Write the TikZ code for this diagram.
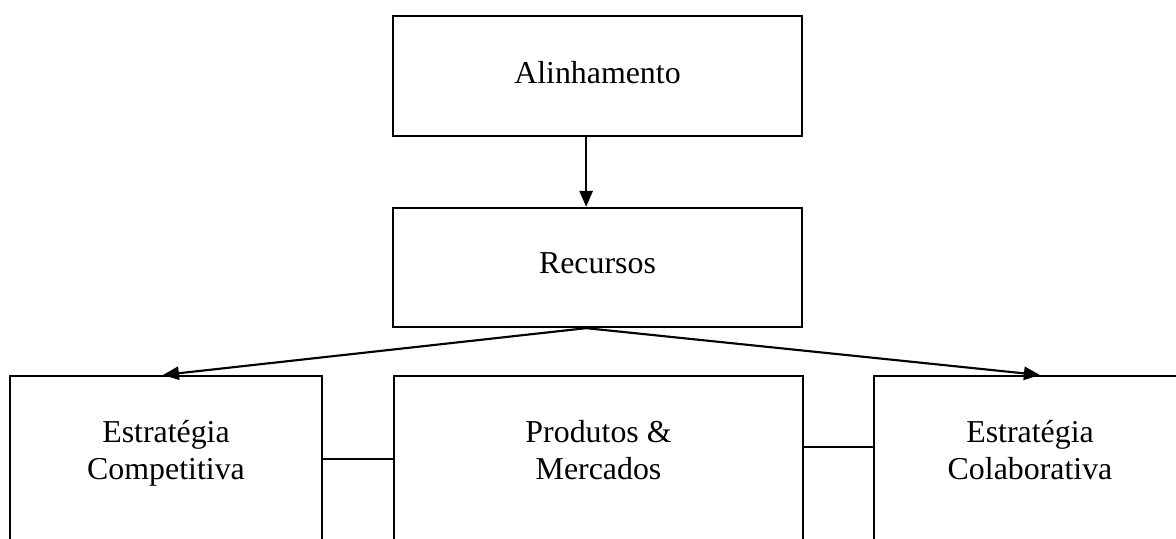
\documentclass[tikz,border=0pt]{standalone}
\usepackage{fontspec}
\setmainfont{Liberation Serif}
\usetikzlibrary{arrows.meta,positioning}

\tikzset{
    caixa/.style={draw, line width=0.75pt, minimum height=1.58cm, text depth=3pt, font=\fontsize{12}{13.8}\selectfont},
    caixabaixo/.style={draw, line width=0.75pt, minimum height=3cm},
    rotulo/.style={align=center, anchor=north, font=\fontsize{12}{13.8}\selectfont},
    seta/.style={line width=0.8pt, -{Triangle[length=6pt,width=5pt]}},
    liga/.style={line width=0.75pt}
}

\begin{document}
\begin{tikzpicture}
    \useasboundingbox (0,0) rectangle (15.557,7.130);
    \clip (0,0) rectangle (15.557,7.130);

    % Topo
    \node[caixa, minimum width=5.41cm] (alinh) at (7.904,6.125) {Alinhamento};
    \node[caixa, minimum width=5.41cm] (recur) at (7.904,3.592) {Recursos};

    % Linha de baixo
    \node[caixabaixo, minimum width=4.128cm] (compet) at (2.196,0.656) {};
    \node[rotulo] (competTxt) at (2.196,1.74) {\strut Estratégia\\\strut Competitiva};

    \node[caixabaixo, minimum width=5.41cm] (prod) at (7.918,0.656) {};
    \node[rotulo] (prodTxt) at (7.918,1.74) {\strut Produtos \&\\\strut Mercados};

    \node[caixabaixo, minimum width=4.128cm] (colab) at (13.626,0.656) {};
    \node[rotulo] (colabTxt) at (13.626,1.74) {\strut Estratégia\\\strut Colaborativa};

    % Setas
    \draw[seta] ([xshift=-0.15cm]alinh.south) -- ([xshift=-0.15cm]recur.north);
    \draw[seta] ([xshift=-0.15cm]recur.south) -- ([xshift=-0.04cm]compet.north);
    \draw[seta] ([xshift=-0.15cm]recur.south) -- ([xshift=0.13cm]colab.north);

    % Ligacoes
    \draw[liga] ([yshift=-1.11cm]compet.north east) -- ([yshift=-1.11cm]prod.north west);
    \draw[liga] ([yshift=-0.95cm]prod.north east) -- ([yshift=-0.95cm]colab.north west);
\end{tikzpicture}
\end{document}
